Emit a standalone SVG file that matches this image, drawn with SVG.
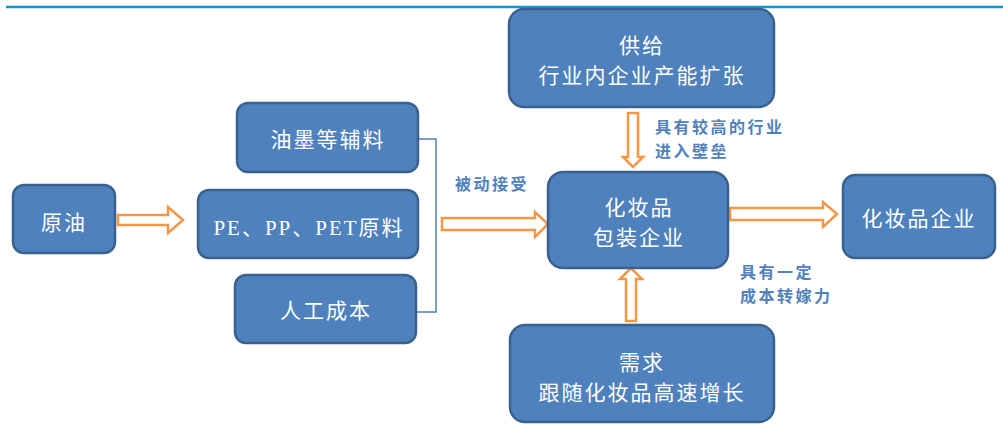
<svg xmlns="http://www.w3.org/2000/svg" width="1003" height="424" viewBox="0 0 1003 424">
<defs>
<style>
.box{fill:#4f81bd;stroke:#3a6290;stroke-width:2.5}
.t{fill:#ffffff;font-family:"Liberation Serif","Noto Sans CJK SC",serif;font-size:21px;letter-spacing:2px;text-anchor:middle}
.lab{fill:#4f81bd;font-family:"Noto Sans CJK SC",sans-serif;font-weight:bold;font-size:16px;letter-spacing:2.5px}
.arr{fill:#ffffff;stroke:#f79646;stroke-width:2.5;stroke-linejoin:miter}
.br{fill:none;stroke:#4f81bd;stroke-width:1.5}
</style>
</defs>
<rect width="1003" height="424" fill="#ffffff"/>
<line x1="6" y1="7" x2="1003" y2="7" stroke="#0099d9" stroke-width="2.5"/>

<g id="connectors">
<polyline class="br" points="418,139 436,139 436,312 414,312"/>
<polygon class="arr" points="118,215 168,215 168,207 183,220 168,233 168,225 118,225"/>
<polygon class="arr" points="442,218 535,218 535,212 548,224 535,237 535,230 442,230"/>
<polygon class="arr" points="730,208 823,208 823,202 837,214 823,227 823,220 730,220"/>
<polygon class="arr" points="628,113 638,113 638,157 643,157 633,167 623,157 628,157"/>
<polygon class="arr" points="626,321 636,321 636,279 642,279 631,268 620,279 626,279"/>
<text class="lab" x="455" y="190">被动接受</text>
<text class="lab" x="655" y="133">具有较高的行业</text>
<text class="lab" x="655" y="157">进入壁垒</text>
<text class="lab" x="740" y="278">具有一定</text>
<text class="lab" x="740" y="302">成本转嫁力</text>
</g>

<g id="crude"><rect class="box" x="13" y="185" width="102" height="68" rx="11"/><text class="t" x="64" y="230">原油</text></g>
<g id="ink"><rect class="box" x="237" y="103" width="181" height="69" rx="11"/><text class="t" x="328" y="147">油墨等辅料</text></g>
<g id="resin"><rect class="box" x="198" y="190" width="220" height="68" rx="11"/><text class="t" x="309" y="235">PE、PP、PET原料</text></g>
<g id="labor"><rect class="box" x="235" y="275" width="181" height="68" rx="11"/><text class="t" x="326" y="318">人工成本</text></g>
<g id="packaging"><rect class="box" x="548" y="172" width="180" height="96" rx="15"/><text class="t" x="639" y="215">化妆品</text><text class="t" x="639" y="245">包装企业</text></g>
<g id="supply"><rect class="box" x="509" y="9" width="265" height="98" rx="15"/><text class="t" x="642" y="53">供给</text><text class="t" x="642" y="83">行业内企业产能扩张</text></g>
<g id="demand"><rect class="box" x="510" y="325" width="264" height="97" rx="15"/><text class="t" x="642" y="370">需求</text><text class="t" x="642" y="400">跟随化妆品高速增长</text></g>
<g id="cosmetics"><rect class="box" x="843" y="175" width="152" height="83" rx="12"/><text class="t" x="919" y="226">化妆品企业</text></g>
</svg>
